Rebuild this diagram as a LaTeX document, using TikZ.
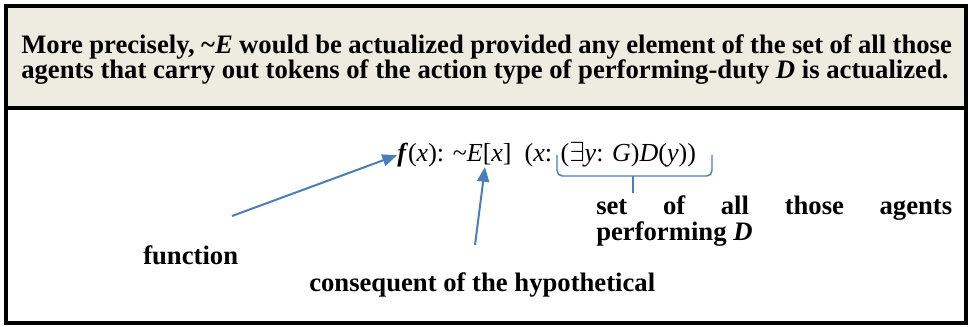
\documentclass[tikz,border=0pt]{standalone}
\usepackage{fontspec}
\setmainfont{Liberation Serif}
\usepackage{xcolor}
\usetikzlibrary{arrows.meta}
\definecolor{tan}{HTML}{EEECE1}
\definecolor{officeblue}{HTML}{4A7EBB}

\begin{document}
\begin{tikzpicture}[x=0.75pt, y=-0.75pt, font=\fontsize{19.5}{15.4}\selectfont,
  frame/.style={draw, line width=3pt},
  lab/.style={font=\fontsize{20}{15}\selectfont\bfseries, inner sep=0pt},
  para/.style={lab, align=justify},
  pointer/.style={draw=officeblue, line width=1.5pt, -{Triangle[length=11pt, width=9pt]}}]
  \useasboundingbox (0,0) rectangle (968,327);
  % the two boxes
  \fill[tan] (6,6) rectangle (966,108);
  \draw[frame] (6,6) rectangle (966,108);
  \draw[frame] (6,108) rectangle (966,323.5);
  % header
  \node[para, font=\fontsize{20}{15.4}\selectfont\bfseries, text width=698pt, anchor=north west] (head) at (21,34)
    {More precisely, \textasciitilde\textit{E} would be actualized provided any element of the set of all those\linebreak
     agents that carry out tokens of the action type of performing-duty \textit{D} is actualized.};
  % formula
  \node[inner sep=0pt, anchor=base west] (form) at (397,162)
    {\textbf{\textit{f}}(\textit{x}): \textasciitilde\textit{E}[\textit{x}]\ \ (\textit{x}: ($\exists$\textit{y}: \textit{G})\textit{D}(\textit{y}))};
  % labels
  \node[lab, anchor=base west] (fun) at (143,265) {function};
  \node[lab, anchor=base west] (cons) at (309,292) {consequent of the hypothetical};
  \node[para, text width=267pt, anchor=north west] (agents) at (596,195)
    {set of all those agents\linebreak performing \textit{D}};
  \coordinate (funend) at (232,216);
  \coordinate (consend) at (475,245);
  \coordinate (Etip) at (485,167);
  % pointers
  \draw[pointer] (funend) -- (form.west);
  \draw[pointer] (consend) -- (Etip);
  % brace over the set
  \draw[officeblue, line width=1.1pt, rounded corners=4pt]
    (557,155) -- (557,176) -- (633,176) -- (712,176) -- (712,155);
  \draw[officeblue, line width=1.1pt] (633,176) -- (633,193);
\end{tikzpicture}
\end{document}
